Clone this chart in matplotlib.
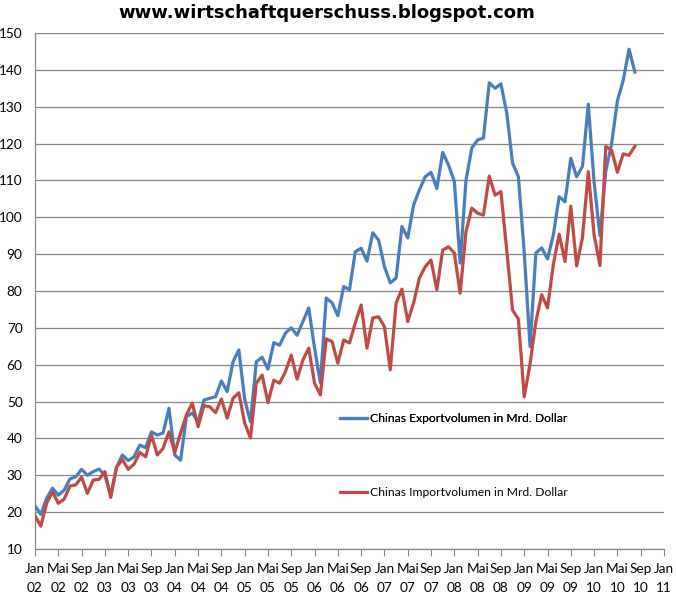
import matplotlib
matplotlib.use("Agg")
import matplotlib.pyplot as plt
from matplotlib.lines import Line2D
import numpy as np

title = "www.wirtschaftquerschuss.blogspot.com"
export_label = "Chinas Exportvolumen in Mrd. Dollar"
import_label = "Chinas Importvolumen in Mrd. Dollar"

start_year = 2002
month_names = ["Jan", "Mai", "Sep"]

exports = [
    21.7, 19.4, 23.8, 26.5, 24.6, 26.0, 29.0, 29.6, 31.6, 30.0, 31.0, 31.7,
    30.0, 24.5, 32.2, 35.5, 34.0, 35.0, 38.2, 37.5, 41.8, 40.9, 41.5, 48.2,
    35.5, 34.1, 45.9, 46.9, 44.5, 50.4, 50.9, 51.3, 55.6, 52.7, 60.8, 64.0,
    50.6, 44.5, 60.8, 62.0, 58.8, 66.0, 65.3, 68.6, 70.0, 68.0, 71.7, 75.4,
    64.5, 55.0, 78.1, 76.8, 73.3, 81.2, 80.3, 90.7, 91.6, 88.1, 95.8, 93.8,
    86.6, 82.2, 83.5, 97.5, 94.4, 103.3, 107.4, 111.0, 112.2, 107.8, 117.6, 114.2,
    109.7, 87.6, 110.0, 118.8, 121.0, 121.5, 136.5, 135.0, 136.2, 128.3, 114.7, 111.0,
    90.5, 64.9, 90.3, 91.7, 88.7, 95.2, 105.6, 104.2, 116.0, 111.0, 113.8, 130.7,
    109.5, 95.0, 112.5, 119.9, 131.6, 137.2, 145.6, 139.4,
]

imports = [
    19.0, 16.2, 22.4, 25.5, 22.4, 23.5, 27.1, 27.4, 29.5, 25.1, 28.7, 28.9,
    31.0, 24.0, 32.2, 34.3, 31.6, 33.0, 36.2, 35.0, 40.9, 35.5, 37.3, 41.8,
    36.2, 41.5, 46.4, 49.6, 43.2, 48.9, 48.6, 47.0, 50.7, 45.5, 50.9, 52.4,
    44.2, 40.1, 55.0, 57.2, 49.7, 55.8, 55.0, 58.1, 62.6, 56.1, 61.3, 64.5,
    55.0, 51.8, 67.0, 66.3, 60.4, 66.7, 65.9, 71.4, 76.2, 64.5, 72.7, 73.0,
    70.3, 58.6, 76.7, 80.5, 71.7, 76.7, 83.5, 86.6, 88.4, 80.3, 91.1, 92.0,
    90.3, 79.4, 96.1, 102.5, 101.1, 100.6, 111.2, 106.0, 107.0, 91.0, 74.8, 72.4,
    51.3, 60.2, 71.7, 79.0, 75.4, 87.2, 95.4, 88.0, 103.0, 86.8, 94.5, 112.4,
    95.2, 86.9, 119.2, 118.2, 112.2, 117.2, 116.8, 119.3,
]

y_ticks = list(range(10, 151, 10))

blue = "#4a7ebb"
red = "#be4b48"
grid_col = "#868686"
font = ["Lato", "DejaVu Sans"]

fig = plt.figure(figsize=(6.76, 5.98), dpi=100)
ax = fig.add_axes([35 / 676, 1 - 549 / 598, (664 - 35) / 676, (549 - 33) / 598])

x = np.arange(len(exports))
ax.plot(x, exports, color=blue, lw=2.3, solid_joinstyle="round", zorder=3)
ax.plot(x, imports, color=red, lw=2.3, solid_joinstyle="round", zorder=4)

n_months = 108
ax.set_xlim(0, n_months)
ax.set_ylim(10, 150)

tick_pos = list(range(0, n_months + 1, 4))
tick_labels = []
for p in tick_pos:
    yr = start_year + p // 12
    tick_labels.append(f"{month_names[(p % 12) // 4]}\n{yr % 100:02d}")
ax.set_xticks(tick_pos)
ax.set_xticklabels(tick_labels, fontsize=9.8, family=font, linespacing=1.7)
ax.set_yticks(y_ticks)
ax.set_yticklabels([str(v) for v in y_ticks], fontsize=9.8, family=font)

ax.tick_params(axis="y", length=0, pad=9)
ax.tick_params(axis="x", length=5, width=0.8, color=grid_col, pad=5, direction="out")

for sp in ["top", "right"]:
    ax.spines[sp].set_visible(False)
ax.spines["left"].set_color(grid_col)
ax.spines["bottom"].set_color(grid_col)
ax.spines["left"].set_linewidth(0.9)
ax.spines["bottom"].set_linewidth(0.9)

ax.grid(axis="y", color=grid_col, lw=0.9)
ax.set_axisbelow(True)

fig.text(0.484, 1 - 13 / 598, title, ha="center", va="center",
         fontsize=13, fontweight="bold", family="DejaVu Sans")

h1 = Line2D([], [], color=blue, lw=2.3)
h2 = Line2D([], [], color=red, lw=2.3)
leg1 = fig.legend([h1], [export_label], loc="center left",
                  bbox_to_anchor=(340 / 676, 1 - 419 / 598), frameon=False,
                  prop={"family": font, "size": 8.7}, handlelength=2.2,
                  handletextpad=0.3, borderpad=0, borderaxespad=0)
leg2 = fig.legend([h2], [import_label], loc="center left",
                  bbox_to_anchor=(340 / 676, 1 - 493 / 598), frameon=False,
                  prop={"family": font, "size": 8.7}, handlelength=2.2,
                  handletextpad=0.3, borderpad=0, borderaxespad=0)
fig.add_artist(leg1)

fig.savefig("out.png", dpi=100)
